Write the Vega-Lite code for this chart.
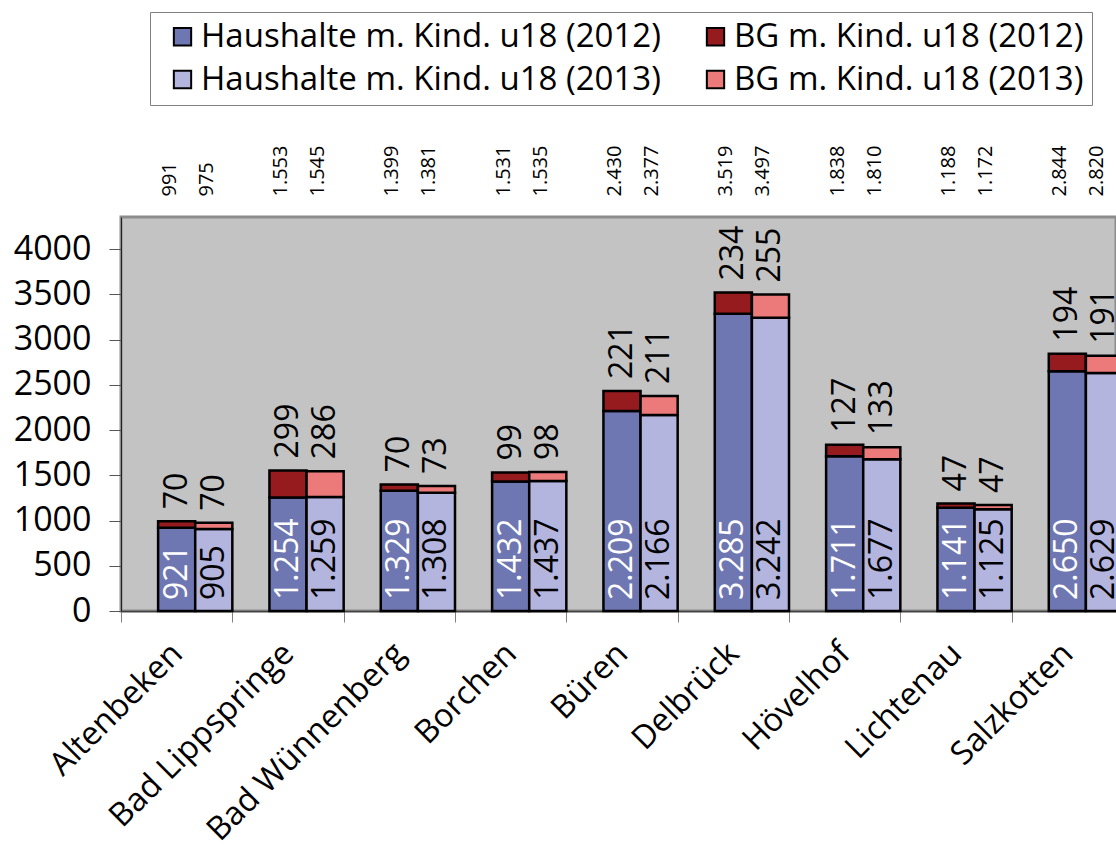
{
  "$schema": "https://vega.github.io/schema/vega-lite/v6.json",
  "width": 995,
  "height": 394,
  "autosize": {"type": "none"},
  "padding": {"left": 121, "top": 217, "right": 0, "bottom": 240},
  "background": "white",
  "config": {
    "font": "Open Sans",
    "locale": {"number": {"decimal": ",", "thousands": ".", "grouping": [3], "currency": ["", " €"]}},
    "view": {"fill": "#C3C3C3", "stroke": "#8C8C8C", "strokeWidth": 3}
  },
  "data": {
    "values": [
      {"Gemeinde": "Altenbeken", "Jahr": "2012", "Typ": "Haushalte", "Serie": "Haushalte m. Kind. u18 (2012)", "Wert": 921},
      {"Gemeinde": "Altenbeken", "Jahr": "2012", "Typ": "BG", "Serie": "BG m. Kind. u18 (2012)", "Wert": 70},
      {"Gemeinde": "Altenbeken", "Jahr": "2013", "Typ": "Haushalte", "Serie": "Haushalte m. Kind. u18 (2013)", "Wert": 905},
      {"Gemeinde": "Altenbeken", "Jahr": "2013", "Typ": "BG", "Serie": "BG m. Kind. u18 (2013)", "Wert": 70},
      {"Gemeinde": "Bad Lippspringe", "Jahr": "2012", "Typ": "Haushalte", "Serie": "Haushalte m. Kind. u18 (2012)", "Wert": 1254},
      {"Gemeinde": "Bad Lippspringe", "Jahr": "2012", "Typ": "BG", "Serie": "BG m. Kind. u18 (2012)", "Wert": 299},
      {"Gemeinde": "Bad Lippspringe", "Jahr": "2013", "Typ": "Haushalte", "Serie": "Haushalte m. Kind. u18 (2013)", "Wert": 1259},
      {"Gemeinde": "Bad Lippspringe", "Jahr": "2013", "Typ": "BG", "Serie": "BG m. Kind. u18 (2013)", "Wert": 286},
      {"Gemeinde": "Bad Wünnenberg", "Jahr": "2012", "Typ": "Haushalte", "Serie": "Haushalte m. Kind. u18 (2012)", "Wert": 1329},
      {"Gemeinde": "Bad Wünnenberg", "Jahr": "2012", "Typ": "BG", "Serie": "BG m. Kind. u18 (2012)", "Wert": 70},
      {"Gemeinde": "Bad Wünnenberg", "Jahr": "2013", "Typ": "Haushalte", "Serie": "Haushalte m. Kind. u18 (2013)", "Wert": 1308},
      {"Gemeinde": "Bad Wünnenberg", "Jahr": "2013", "Typ": "BG", "Serie": "BG m. Kind. u18 (2013)", "Wert": 73},
      {"Gemeinde": "Borchen", "Jahr": "2012", "Typ": "Haushalte", "Serie": "Haushalte m. Kind. u18 (2012)", "Wert": 1432},
      {"Gemeinde": "Borchen", "Jahr": "2012", "Typ": "BG", "Serie": "BG m. Kind. u18 (2012)", "Wert": 99},
      {"Gemeinde": "Borchen", "Jahr": "2013", "Typ": "Haushalte", "Serie": "Haushalte m. Kind. u18 (2013)", "Wert": 1437},
      {"Gemeinde": "Borchen", "Jahr": "2013", "Typ": "BG", "Serie": "BG m. Kind. u18 (2013)", "Wert": 98},
      {"Gemeinde": "Büren", "Jahr": "2012", "Typ": "Haushalte", "Serie": "Haushalte m. Kind. u18 (2012)", "Wert": 2209},
      {"Gemeinde": "Büren", "Jahr": "2012", "Typ": "BG", "Serie": "BG m. Kind. u18 (2012)", "Wert": 221},
      {"Gemeinde": "Büren", "Jahr": "2013", "Typ": "Haushalte", "Serie": "Haushalte m. Kind. u18 (2013)", "Wert": 2166},
      {"Gemeinde": "Büren", "Jahr": "2013", "Typ": "BG", "Serie": "BG m. Kind. u18 (2013)", "Wert": 211},
      {"Gemeinde": "Delbrück", "Jahr": "2012", "Typ": "Haushalte", "Serie": "Haushalte m. Kind. u18 (2012)", "Wert": 3285},
      {"Gemeinde": "Delbrück", "Jahr": "2012", "Typ": "BG", "Serie": "BG m. Kind. u18 (2012)", "Wert": 234},
      {"Gemeinde": "Delbrück", "Jahr": "2013", "Typ": "Haushalte", "Serie": "Haushalte m. Kind. u18 (2013)", "Wert": 3242},
      {"Gemeinde": "Delbrück", "Jahr": "2013", "Typ": "BG", "Serie": "BG m. Kind. u18 (2013)", "Wert": 255},
      {"Gemeinde": "Hövelhof", "Jahr": "2012", "Typ": "Haushalte", "Serie": "Haushalte m. Kind. u18 (2012)", "Wert": 1711},
      {"Gemeinde": "Hövelhof", "Jahr": "2012", "Typ": "BG", "Serie": "BG m. Kind. u18 (2012)", "Wert": 127},
      {"Gemeinde": "Hövelhof", "Jahr": "2013", "Typ": "Haushalte", "Serie": "Haushalte m. Kind. u18 (2013)", "Wert": 1677},
      {"Gemeinde": "Hövelhof", "Jahr": "2013", "Typ": "BG", "Serie": "BG m. Kind. u18 (2013)", "Wert": 133},
      {"Gemeinde": "Lichtenau", "Jahr": "2012", "Typ": "Haushalte", "Serie": "Haushalte m. Kind. u18 (2012)", "Wert": 1141},
      {"Gemeinde": "Lichtenau", "Jahr": "2012", "Typ": "BG", "Serie": "BG m. Kind. u18 (2012)", "Wert": 47},
      {"Gemeinde": "Lichtenau", "Jahr": "2013", "Typ": "Haushalte", "Serie": "Haushalte m. Kind. u18 (2013)", "Wert": 1125},
      {"Gemeinde": "Lichtenau", "Jahr": "2013", "Typ": "BG", "Serie": "BG m. Kind. u18 (2013)", "Wert": 47},
      {"Gemeinde": "Salzkotten", "Jahr": "2012", "Typ": "Haushalte", "Serie": "Haushalte m. Kind. u18 (2012)", "Wert": 2650},
      {"Gemeinde": "Salzkotten", "Jahr": "2012", "Typ": "BG", "Serie": "BG m. Kind. u18 (2012)", "Wert": 194},
      {"Gemeinde": "Salzkotten", "Jahr": "2013", "Typ": "Haushalte", "Serie": "Haushalte m. Kind. u18 (2013)", "Wert": 2629},
      {"Gemeinde": "Salzkotten", "Jahr": "2013", "Typ": "BG", "Serie": "BG m. Kind. u18 (2013)", "Wert": 191}
    ]
  },
  "transform": [
    {"joinaggregate": [{"op": "sum", "field": "Wert", "as": "Summe"}], "groupby": ["Gemeinde", "Jahr"]}
  ],
  "encoding": {
    "x": {
      "field": "Gemeinde",
      "type": "nominal",
      "sort": null,
      "scale": {"range": [0, 1002], "paddingInner": 0, "paddingOuter": 0},
      "axis": {
        "title": null,
        "labelAngle": -45,
        "labelAlign": "right",
        "labelBaseline": "middle",
        "labelFontSize": 32.5,
        "labelColor": "black",
        "labelPadding": 26,
        "labelLimit": 500,
        "tickBand": "extent",
        "tickSize": 11,
        "tickColor": "#808080",
        "domainColor": "#404040",
        "domainWidth": 1.5
      }
    },
    "xOffset": {
      "field": "Jahr",
      "type": "nominal",
      "scale": {"domain": ["leer", "2012", "2013"], "paddingInner": 0, "paddingOuter": 0}
    }
  },
  "layer": [
    {
      "mark": {"type": "bar", "stroke": "black", "strokeWidth": 2.5},
      "encoding": {
        "y": {
          "field": "Wert",
          "type": "quantitative",
          "stack": "zero",
          "scale": {"domain": [0, 4354], "nice": false},
          "axis": {
            "title": null,
            "values": [0, 500, 1000, 1500, 2000, 2500, 3000, 3500, 4000],
            "format": "d",
            "grid": false,
            "labelFontSize": 34,
            "labelColor": "black",
            "labelPadding": 18,
            "tickSize": 12,
            "tickColor": "#555555",
            "domainColor": "#222222"
          }
        },
        "color": {
          "field": "Serie",
          "type": "nominal",
          "scale": {
            "domain": ["Haushalte m. Kind. u18 (2012)", "Haushalte m. Kind. u18 (2013)", "BG m. Kind. u18 (2012)", "BG m. Kind. u18 (2013)"],
            "range": ["#6F77B3", "#B3B5DE", "#961B1F", "#EC7A7A"]
          },
          "legend": {
            "title": null,
            "orient": "none",
            "legendX": 29,
            "legendY": -205,
            "columns": 2,
            "padding": 8,
            "symbolOffset": 8,
            "symbolType": "square",
            "symbolSize": 300,
            "symbolStrokeColor": "black",
            "symbolStrokeWidth": 2,
            "labelFontSize": 33,
            "labelColor": "black",
            "labelOffset": 2,
            "labelLimit": 700,
            "columnPadding": 30,
            "rowPadding": 9,
            "strokeColor": "#808080",
            "fillColor": "white"
          }
        },
        "order": {"field": "Typ", "sort": "descending"}
      }
    },
    {
      "transform": [{"filter": "datum.Typ == 'Haushalte'"}],
      "mark": {"type": "text", "angle": 270, "align": "left", "baseline": "middle", "dx": 11, "fontSize": 32},
      "encoding": {
        "y": {"datum": 0},
        "text": {"field": "Wert", "type": "quantitative", "format": ",d"},
        "color": {"condition": {"test": "datum.Jahr == '2012'", "value": "white"}, "value": "black"}
      }
    },
    {
      "transform": [{"filter": "datum.Typ == 'BG'"}],
      "mark": {"type": "text", "angle": 270, "align": "left", "baseline": "middle", "dx": 12, "fontSize": 32, "color": "black"},
      "encoding": {
        "y": {"field": "Summe", "type": "quantitative"},
        "text": {"field": "Wert", "type": "quantitative", "format": ",d"}
      }
    },
    {
      "transform": [{"filter": "datum.Typ == 'BG'"}],
      "mark": {"type": "text", "angle": 270, "align": "left", "baseline": "middle", "dy": -7, "fontSize": 20, "color": "black"},
      "encoding": {
        "y": {"datum": 4580},
        "text": {"field": "Summe", "type": "quantitative", "format": ",d"}
      }
    }
  ]
}
